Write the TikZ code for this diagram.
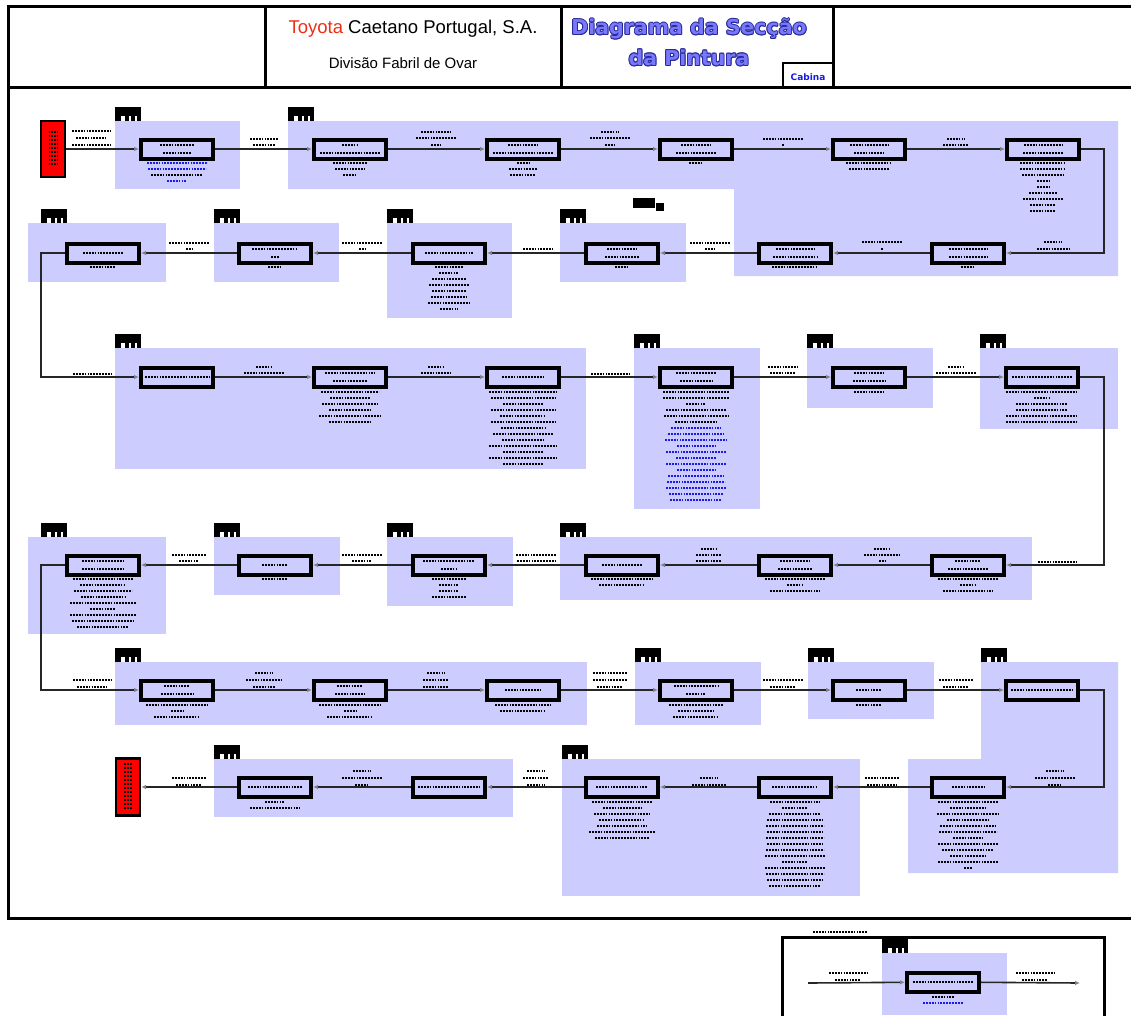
\documentclass[tikz,border=0pt]{standalone}
\usepackage{fontspec}
\setmainfont{Liberation Sans}
\newfontfamily\titlefont{DejaVu Sans}
\usetikzlibrary{arrows.meta}

\definecolor{grpblue}{RGB}{204,204,255}
\definecolor{ttlblue}{RGB}{120,120,252}
\definecolor{ttledge}{RGB}{40,40,150}
\definecolor{rowblue}{RGB}{25,25,235}
\definecolor{toyred}{RGB}{240,45,20}

\tikzset{
  grp/.style={fill=grpblue},
  stn/.style={draw=black, line width=4pt, fill=grpblue, minimum width=72pt,
              minimum height=19pt, inner sep=0pt},
  endbox/.style={draw=black, line width=2.2pt, fill=red, minimum width=24pt,
                 minimum height=56pt, inner sep=0pt},
  flow/.style={draw=black!85, line width=1.6pt,
               -{Latex[length=5pt,width=4.5pt,color=black!50]}},
  trw/.style={line width=2.9pt, dash pattern=on 1.8pt off 1.1pt},
  frame/.style={line width=3pt},
  ttl/.style={font=\titlefont\bfseries\fontsize{20.5}{20.5}\selectfont, inner sep=0pt},
}

% one row of small print, centred on x
\newcommand\trow[4][black]{\draw[trw,#1] ({#2-#4/2},#3) -- ({#2+#4/2},#3);}
% a column of rows of small print, 6 units apart
\newcommand\tblock[4][black]{%
  \foreach \w [count=\i from 0] in {#4} {\trow[#1]{#2}{#3+6*\i}{\w}}}
% two rows / one row of print inside a station
\newcommand\intwo[4]{\trow{#1}{#2-4}{#3}\trow{#1}{#2+4}{#4}}
\newcommand\inone[3]{\trow{#1}{#2}{#3}}
% the black area tag sitting on top of a group
\newcommand\grptag[2]{%
  \fill[black] (#1,{#2-14}) rectangle ({#1+26},#2);
  \fill[white] ({#1+6},{#2-5}) rectangle ({#1+10},#2);
  \fill[white] ({#1+14},{#2-5}) rectangle ({#1+15.5},#2);
  \fill[white] ({#1+20},{#2-5}) rectangle ({#1+21.5},#2);}

\begin{document}
\begin{tikzpicture}[x=1pt, y=-1pt]
\useasboundingbox (0,0) rectangle (1131,1015);
\clip (0,0) rectangle (1131,1015);
\fill[white] (0,0) rectangle (1131,1015);

% ---------- frames ----------
\draw[frame] (8,6) rectangle (1145,918);
\draw[frame] (8,87) -- (1145,87);
\draw[frame] (265,6) -- (265,87);
\draw[frame] (561,6) -- (561,87);
\draw[frame] (833,6) -- (833,87);
\draw[line width=2.5pt] (783,87) -- (783,63) -- (833,63);

% ---------- header text ----------
\node[font=\fontsize{18.5}{18.5}\selectfont] (cmp) at (413,29)
  {\textcolor{toyred}{Toyota} Caetano Portugal, S.A.};
\node[font=\fontsize{15}{15}\selectfont] (div) at (403,63) {Divisão Fabril de Ovar};
\foreach \dx/\dy [count=\k] in {-0.9/0,0.9/0,0/-0.9,0/0.9,0.7/0.7,-0.7/-0.7,0.7/-0.7,-0.7/0.7} {
  \node[ttl, text=ttledge] (tsa\k) at ({689+\dx},{29+\dy}) {Diagrama da Secção};
  \node[ttl, text=ttledge] (tsb\k) at ({689+\dx},{58+\dy}) {da Pintura};
}
\node[ttl, text=ttlblue] (ttla) at (689,29) {Diagrama da Secção};
\node[ttl, text=ttlblue] (ttlb) at (689,58) {da Pintura};
\node[font=\titlefont\bfseries\fontsize{9}{9}\selectfont, text=rowblue, inner sep=0pt]
  (cab) at (808,77) {Cabina};

% ---------- area groups ----------
\fill[grp] (115,121) rectangle (240,189);
\fill[grp] (288,121) -- (1118,121) -- (1118,276) -- (734,276) -- (734,189) -- (288,189) -- cycle;
\fill[grp] (560,223) rectangle (686,282);
\fill[grp] (387,223) rectangle (512,318);
\fill[grp] (214,223) rectangle (339,282);
\fill[grp] (28,223) rectangle (166,282);
\fill[grp] (115,348) rectangle (586,469);
\fill[grp] (634,348) rectangle (760,509);
\fill[grp] (807,348) rectangle (933,408);
\fill[grp] (980,348) rectangle (1118,429);
\fill[grp] (560,537) rectangle (1032,600);
\fill[grp] (387,537) rectangle (513,606);
\fill[grp] (214,537) rectangle (340,595);
\fill[grp] (28,537) rectangle (166,634);
\fill[grp] (115,662) rectangle (587,725);
\fill[grp] (635,662) rectangle (761,725);
\fill[grp] (808,662) rectangle (934,719);
\fill[grp] (981,662) -- (1118,662) -- (1118,873) -- (908,873) -- (908,759) -- (981,759) -- cycle;
\fill[grp] (562,759) rectangle (860,896);
\fill[grp] (214,759) rectangle (513,817);

\foreach \tx/\ty in {115/121,288/121,41/223,214/223,387/223,560/223,
  115/348,634/348,807/348,980/348,41/537,214/537,387/537,560/537,
  115/662,635/662,808/662,981/662,214/759,562/759}
  {\grptag{\tx}{\ty}}

% small marker beside the second row
\fill[black] (633,198) rectangle (655,208);
\filldraw[black, draw=white, line width=0.8pt] (655,202) rectangle (664,211);

% ---------- stations ----------
\node[endbox] (start) at (53,149) {};
\node[stn] (b1) at (177,149) {};
\node[stn] (b2) at (350,149) {};
\node[stn] (b3) at (523,149) {};
\node[stn] (b4) at (696,149) {};
\node[stn] (b5) at (869,149) {};
\node[stn] (b6) at (1043,149) {};
\node[stn] (b7) at (968,253) {};
\node[stn] (b8) at (795,253) {};
\node[stn] (b9) at (622,253) {};
\node[stn] (b10) at (449,253) {};
\node[stn] (b11) at (275,253) {};
\node[stn] (b12) at (103,253) {};
\node[stn] (b13) at (177,377) {};
\node[stn] (b14) at (350,377) {};
\node[stn] (b15) at (523,377) {};
\node[stn] (b16) at (696,377) {};
\node[stn] (b17) at (869,377) {};
\node[stn] (b18) at (1042,377) {};
\node[stn] (b19) at (968,565) {};
\node[stn] (b20) at (795,565) {};
\node[stn] (b21) at (622,565) {};
\node[stn] (b22) at (449,565) {};
\node[stn] (b23) at (275,565) {};
\node[stn] (b24) at (103,565) {};
\node[stn] (b25) at (177,690) {};
\node[stn] (b26) at (350,690) {};
\node[stn] (b27) at (523,690) {};
\node[stn] (b28) at (696,690) {};
\node[stn] (b29) at (869,690) {};
\node[stn] (b30) at (1042,690) {};
\node[stn] (b31) at (968,787) {};
\node[stn] (b32) at (795,787) {};
\node[stn] (b33) at (622,787) {};
\node[stn] (b34) at (449,787) {};
\node[stn] (b35) at (275,787) {};
\node[endbox, minimum height=57pt] (finish) at (128,787) {};

% ---------- flow ----------
\draw[flow] (start) -- (b1);
\draw[flow] (b1) -- (b2);
\draw[flow] (b2) -- (b3);
\draw[flow] (b3) -- (b4);
\draw[flow] (b4) -- (b5);
\draw[flow] (b5) -- (b6);
\draw[flow] (b6.east) -- ++(23,0) |- (b7.east);
\draw[flow] (b7) -- (b8);
\draw[flow] (b8) -- (b9);
\draw[flow] (b9) -- (b10);
\draw[flow] (b10) -- (b11);
\draw[flow] (b11) -- (b12);
\draw[flow] (b12.west) -- ++(-24,0) |- (b13.west);
\draw[flow] (b13) -- (b14);
\draw[flow] (b14) -- (b15);
\draw[flow] (b15) -- (b16);
\draw[flow] (b16) -- (b17);
\draw[flow] (b17) -- (b18);
\draw[flow] (b18.east) -- ++(24,0) |- (b19.east);
\draw[flow] (b19) -- (b20);
\draw[flow] (b20) -- (b21);
\draw[flow] (b21) -- (b22);
\draw[flow] (b22) -- (b23);
\draw[flow] (b23) -- (b24);
\draw[flow] (b24.west) -- ++(-24,0) |- (b25.west);
\draw[flow] (b25) -- (b26);
\draw[flow] (b26) -- (b27);
\draw[flow] (b27) -- (b28);
\draw[flow] (b28) -- (b29);
\draw[flow] (b29) -- (b30);
\draw[flow] (b30.east) -- ++(24,0) |- (b31.east);
\draw[flow] (b31) -- (b32);
\draw[flow] (b32) -- (b33);
\draw[flow] (b33) -- (b34);
\draw[flow] (b34) -- (b35);
\draw[flow] (b35) -- (finish);

% ---------- print inside the end boxes ----------
\foreach \k in {0,...,8} {\trow{53}{132+4*\k}{9}}
\foreach \k in {0,...,11} {\trow{128}{764+4*\k}{8}}

% ---------- print on the connectors ----------
\trow{91}{131}{38} \trow{91}{138}{30} \trow{91}{145}{38}
\trow{264}{139}{28} \trow{264}{145}{22}
\trow{436}{132}{30} \trow{436}{138}{40} \trow{436}{145}{10}
\trow{610}{132}{18} \trow{610}{138}{40} \trow{610}{145}{10}
\trow{783}{139}{40} \trow{783}{145}{2}
\trow{956}{139}{18} \trow{956}{145}{26}
\trow{1053}{242}{18} \trow{1053}{249}{32}
\trow{882}{242}{40} \trow{882}{249}{2}
\trow{710}{243}{40} \trow{710}{249}{10}
\trow{538}{249}{30}
\trow{362}{243}{40} \trow{362}{249}{6}
\trow{189}{243}{40} \trow{189}{249}{6}
\trow{92}{374}{38}
\trow{264}{367}{16} \trow{264}{373}{40}
\trow{436}{367}{16} \trow{436}{373}{30}
\trow{610}{374}{38}
\trow{783}{367}{30} \trow{783}{373}{26}
\trow{956}{367}{16} \trow{956}{373}{40}
\trow{1057}{562}{38}
\trow{882}{549}{16} \trow{882}{555}{36} \trow{882}{561}{6}
\trow{709}{549}{16} \trow{709}{555}{26} \trow{709}{561}{26}
\trow{536}{555}{40} \trow{536}{561}{38}
\trow{362}{555}{40} \trow{362}{561}{20}
\trow{189}{555}{34} \trow{189}{561}{20}
\trow{92}{680}{38} \trow{92}{687}{30}
\trow{264}{673}{18} \trow{264}{680}{36} \trow{264}{687}{22}
\trow{436}{673}{18} \trow{436}{680}{26} \trow{436}{687}{26}
\trow{610}{673}{34} \trow{610}{680}{34} \trow{610}{687}{26}
\trow{783}{680}{40} \trow{783}{687}{26}
\trow{956}{680}{34} \trow{956}{687}{26}
\trow{1055}{771}{18} \trow{1055}{778}{40} \trow{1055}{785}{14}
\trow{882}{778}{34} \trow{882}{785}{30}
\trow{709}{778}{18} \trow{709}{785}{34}
\trow{536}{771}{18} \trow{536}{778}{26} \trow{536}{785}{18}
\trow{362}{771}{18} \trow{362}{778}{40} \trow{362}{785}{14}
\trow{189}{778}{34} \trow{189}{785}{26}

% ---------- print inside and under the stations ----------
\intwo{177}{149}{34}{28}
\tblock[rowblue]{177}{163}{60,58} \trow{177}{175}{52} \trow[rowblue]{177}{181}{20}
\intwo{350}{149}{16}{60} \tblock{350}{163}{34,30,14}
\intwo{523}{149}{30}{60} \tblock{523}{163}{12,28,26}
\intwo{696}{149}{30}{40} \tblock{696}{163}{14}
\intwo{869}{149}{38}{30} \tblock{869}{163}{46,40}
\intwo{1043}{149}{38}{40} \tblock{1043}{163}{46,46,42,12,12,28,40,26,26}
\intwo{968}{253}{38}{38} \tblock{968}{267}{14}
\intwo{795}{253}{38}{44} \tblock{795}{267}{46}
\intwo{622}{253}{30}{34} \tblock{622}{267}{14}
\inone{449}{253}{48} \tblock{449}{267}{28,20,34,40,34,36,42,18}
\intwo{275}{253}{46}{8} \tblock{275}{267}{14}
\inone{103}{253}{40} \tblock{103}{267}{26}
\inone{177}{377}{64}
\intwo{350}{377}{50}{34} \tblock{350}{392}{58,40,56,42,62,42}
\inone{523}{377}{42} \tblock{523}{392}{68,64,40,64,46,64,44,60,42,68,40,68,40}
\intwo{696}{377}{40}{32} \tblock{696}{392}{66,66,20,60,64,42}
\tblock[rowblue]{696}{428}{50,56,62,38,60,40,60,38,56,58,60,54,52}
\intwo{869}{377}{30}{32} \tblock{869}{392}{30}
\inone{1042}{377}{60} \tblock{1042}{392}{72,16,52,52,72,72}
\intwo{968}{565}{26}{40} \tblock{968}{579}{60,16,50}
\intwo{795}{565}{30}{34} \tblock{795}{579}{60,16,50}
\inone{622}{565}{40} \tblock{622}{579}{62,46}
\intwo{449}{565}{52}{16} \tblock{449}{579}{34,20,20,34}
\inone{275}{565}{26} \tblock{275}{579}{26}
\intwo{103}{565}{42}{42} \tblock{103}{579}{60,46,58,44,66,26,66,62,52}
\intwo{177}{690}{26}{32} \tblock{177}{705}{62,12,46}
\intwo{350}{690}{26}{30} \tblock{350}{705}{62,12,46}
\inone{523}{690}{36} \tblock{523}{705}{56,46}
\intwo{696}{690}{44}{20} \tblock{696}{705}{54,36,46}
\inone{869}{690}{26} \tblock{869}{705}{26}
\inone{1042}{690}{62}
\inone{968}{787}{32} \tblock{968}{802}{60,36,62,42,56,58,30,60,52,36,60,8}
\inone{795}{787}{46} \tblock{795}{802}{50,26,52,56,58,56,58,56,58,60,26,60,58,56,52}
\inone{622}{787}{52} \tblock{622}{802}{60,38,56,46,50,66,54}
\inone{449}{787}{62}
\inone{275}{787}{54} \tblock{275}{802}{20,50}

% ---------- legend ----------
\draw[frame] (782,937) rectangle (1104,1040);
\trow{840}{932}{54}
\fill[grp] (882,953) rectangle (1007,1015);
\grptag{882}{953}
\node[stn] (lg) at (943,982) {};
\coordinate (lgin) at (808,983);
\coordinate (lgout) at (1080,983);
\draw[flow] (lgin) -- (lg);
\draw[flow] (lg) -- (lgout);
\inone{943}{982}{60}
\trow{943}{997}{22} \trow[rowblue]{943}{1003}{40}
\trow{848}{973}{38} \trow{848}{980}{26}
\trow{1035}{973}{38} \trow{1035}{980}{26}
\end{tikzpicture}
\end{document}
